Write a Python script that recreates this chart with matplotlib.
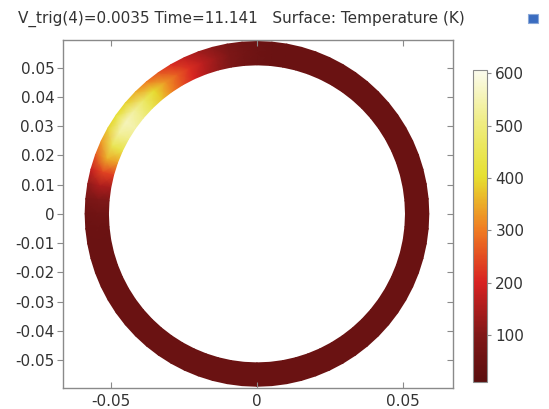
import numpy as np
import matplotlib
matplotlib.use('Agg')
import matplotlib.pyplot as plt
from matplotlib.colors import LinearSegmentedColormap
from matplotlib.patches import Rectangle

# ______________________________________________________________________________
# DATA
# ______________________________________________________________________________

title = 'V_trig(4)=0.0035 Time=11.141   Surface: Temperature (K)'

r_outer = 0.059
r_inner = 0.051
radii = [r_inner, 0.055, r_outer]

base_temp = 48.0

# hot zone on the upper left of the ring, angle in degrees (0 = +x axis)
hot_angles = [85, 90, 95, 100, 105, 110, 115, 120, 125, 130, 135, 140,
              145, 150, 155, 160, 165, 170, 175, 180, 185, 190]
t_inner = [50, 55, 68, 90, 120, 155, 200, 250, 310, 380, 450, 510,
           540, 510, 430, 335, 230, 145, 92, 62, 51, 48]
t_mid = [50, 58, 72, 95, 130, 170, 215, 270, 330, 400, 470, 530,
         560, 530, 450, 350, 240, 150, 95, 65, 52, 48]
t_outer = [49, 54, 64, 82, 108, 138, 172, 210, 255, 300, 350, 390,
           410, 390, 330, 260, 180, 118, 80, 58, 50, 48]

t_min, t_max = 10, 606
cbar_ticks = [100, 200, 300, 400, 500, 600]
xticks = [-0.05, 0, 0.05]
yticks = [-0.05, -0.04, -0.03, -0.02, -0.01, 0, 0.01, 0.02, 0.03, 0.04, 0.05]

# ______________________________________________________________________________
# PLOT
# ______________________________________________________________________________

cmap = LinearSegmentedColormap.from_list('thermal', [
    (0.00, '#5a0e0e'),
    (0.15, '#801818'),
    (0.32, '#d82222'),
    (0.49, '#f07c22'),
    (0.66, '#e6e030'),
    (0.83, '#efec80'),
    (1.00, '#fbfbee'),
])

angles = np.arange(0, 365, 5)
temps = np.full((len(radii), len(angles)), base_temp)
for row, profile in enumerate([t_inner, t_mid, t_outer]):
    for a, t in zip(hot_angles, profile):
        temps[row, angles == a] = t

rr, aa = np.meshgrid(radii, np.deg2rad(angles), indexing='ij')
X = rr * np.cos(aa)
Y = rr * np.sin(aa)

fig = plt.figure(figsize=(5.49, 4.09), dpi=100)
fig.patch.set_facecolor('white')

ax = fig.add_axes([0.1142, 0.0513, 0.7109, 0.8509])
mesh = ax.pcolormesh(X, Y, temps, shading='gouraud', cmap=cmap,
                     vmin=t_min, vmax=t_max, rasterized=True)
ax.set_xlim(-0.0667, 0.0673)
ax.set_ylim(-0.0596, 0.0595)
ax.set_xticks(xticks)
ax.set_xticklabels(['-0.05', '0', '0.05'])
ax.set_yticks(yticks)
ax.set_yticklabels(['%g' % v if v != 0 else '0' for v in yticks])

frame_col = '#8a8a8a'
text_col = '#333333'
for sp in ax.spines.values():
    sp.set_color(frame_col)
    sp.set_linewidth(1.0)
ax.tick_params(axis='both', colors=frame_col, labelcolor=text_col,
               labelsize=11, length=4)
ax.tick_params(axis='y', direction='out', pad=2)
ax.tick_params(axis='x', direction='in', top=True, pad=4)
ax.tick_params(axis='y', which='both', right=True)
for t in ax.yaxis.get_ticklines()[1::2]:
    t.set_marker(0)  # right-side ticks point inwards

fig.text(0.033, 0.953, title, fontsize=11, color=text_col,
         ha='left', va='center')

cax = fig.add_axes([0.8616, 0.066, 0.0255, 0.7628])
cb = fig.colorbar(mesh, cax=cax, ticks=cbar_ticks)
cb.outline.set_edgecolor(frame_col)
cb.ax.tick_params(colors=frame_col, labelcolor=text_col, labelsize=11,
                  length=3, pad=3)

# small toolbar icon at the top right
fig.patches.append(Rectangle((0.962, 0.944), 0.018, 0.022,
                             transform=fig.transFigure, facecolor='#3a6cc0',
                             edgecolor='#8aa8d8', lw=0.8))

fig.savefig('out.png', dpi=100)
